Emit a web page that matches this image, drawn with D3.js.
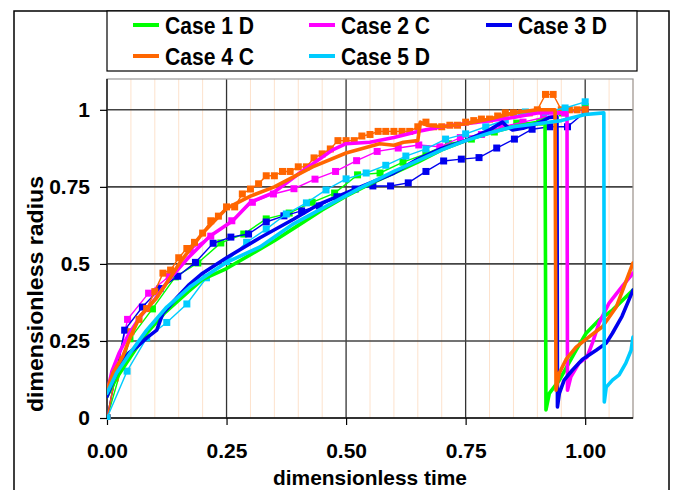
<!DOCTYPE html>
<html><head><meta charset="utf-8">
<script src="https://cdn.jsdelivr.net/npm/d3@7"></script>
<style>body{margin:0;background:#fff}svg{display:block}text{font-family:"Liberation Sans",Arial,sans-serif;font-weight:bold}</style>
</head><body><svg id="c" width="677" height="490"></svg>
<script>
// ---- data ----
const seriesNames = ["Case 1 D","Case 2 C","Case 3 D","Case 4 C","Case 5 D"];
const seriesColors = ["#00ff00","#ff00ff","#0000ee","#ff6600","#00ccff"];
const xTicks = [0,0.25,0.5,0.75,1.0];
const xTickLabels = ["0.00","0.25","0.50","0.75","1.00"];
const yTicks = [0,0.25,0.5,0.75,1];
const yTickLabels = ["0","0.25","0.5","0.75","1"];

// simulated (thick) curves: [time, radius]
const case1Sim = [[0,0.07],[0.02,0.13],[0.05,0.2],[0.08,0.27],[0.12,0.34],[0.17,0.41],[0.2,0.45],[0.25,0.485],[0.3,0.53],[0.35,0.575],[0.4,0.625],[0.45,0.675],[0.5,0.72],[0.55,0.76],[0.6,0.795],[0.65,0.83],[0.7,0.87],[0.75,0.9],[0.8,0.925],[0.85,0.945],[0.9,0.96],[0.916,0.97],[0.918,0.026],[0.925,0.08],[0.946,0.123],[0.981,0.22],[1.002,0.275],[1.029,0.318],[1.057,0.35],[1.1,0.415]];
const case2Sim = [[0,0.08],[0.01,0.15],[0.025,0.21],[0.045,0.27],[0.07,0.33],[0.1,0.385],[0.13,0.45],[0.17,0.52],[0.215,0.59],[0.263,0.64],[0.3,0.7],[0.347,0.73],[0.403,0.795],[0.472,0.87],[0.5,0.89],[0.55,0.895],[0.6,0.91],[0.65,0.93],[0.7,0.945],[0.75,0.955],[0.8,0.965],[0.85,0.975],[0.9,0.99],[0.962,0.99],[0.963,0.09],[0.97,0.134],[0.987,0.178],[1.004,0.198],[1.015,0.243],[1.029,0.308],[1.05,0.373],[1.077,0.426],[1.1,0.47]];
const case3Sim = [[0,0.07],[0.015,0.13],[0.03,0.18],[0.045,0.21],[0.062,0.23],[0.083,0.26],[0.104,0.285],[0.117,0.34],[0.146,0.39],[0.17,0.43],[0.2,0.47],[0.25,0.52],[0.32,0.585],[0.39,0.645],[0.445,0.695],[0.5,0.73],[0.53,0.75],[0.57,0.775],[0.6,0.795],[0.65,0.84],[0.7,0.875],[0.75,0.9],[0.8,0.935],[0.827,0.96],[0.837,0.945],[0.848,0.935],[0.87,0.94],[0.904,0.958],[0.925,0.975],[0.941,0.977],[0.942,0.036],[0.946,0.08],[0.956,0.123],[0.973,0.155],[0.994,0.19],[1.023,0.22],[1.044,0.243],[1.057,0.275],[1.077,0.33],[1.1,0.415]];
const case4Sim = [[0,0.09],[0.0125,0.146],[0.033,0.2],[0.048,0.26],[0.069,0.33],[0.104,0.39],[0.13,0.45],[0.155,0.51],[0.2,0.6],[0.25,0.68],[0.3,0.72],[0.35,0.75],[0.43,0.815],[0.5,0.86],[0.57,0.89],[0.6,0.885],[0.62,0.895],[0.65,0.9],[0.655,0.96],[0.67,0.95],[0.7,0.945],[0.75,0.955],[0.8,0.97],[0.85,0.99],[0.9,1.0],[0.937,1.0],[0.939,0.09],[0.946,0.146],[0.96,0.19],[0.981,0.23],[1.008,0.263],[1.036,0.296],[1.065,0.36],[1.1,0.503]];
const case5Sim = [[0,0.08],[0.02,0.146],[0.048,0.21],[0.083,0.285],[0.125,0.36],[0.173,0.425],[0.215,0.47],[0.25,0.505],[0.32,0.555],[0.39,0.63],[0.45,0.68],[0.528,0.745],[0.6,0.8],[0.65,0.835],[0.7,0.87],[0.75,0.9],[0.8,0.925],[0.85,0.945],[0.9,0.955],[0.95,0.965],[1.0,0.985],[1.039,0.99],[1.04,0.052],[1.044,0.1],[1.057,0.123],[1.071,0.14],[1.085,0.178],[1.096,0.22],[1.1,0.263]];

// measured (marker) series: time values and radius values
const case1MeasT = [0,0.048,0.095,0.143,0.19,0.238,0.286,0.333,0.381,0.429,0.476,0.524,0.571,0.619,0.667,0.714,0.762,0.81,0.857,0.905,0.952,1.0];
const case1MeasR = [0,0.257,0.354,0.458,0.503,0.568,0.597,0.646,0.665,0.70,0.73,0.789,0.795,0.83,0.857,0.89,0.905,0.928,0.957,0.96,0.99,1.01];
const case2MeasT = [0,0.043,0.087,0.13,0.174,0.217,0.261,0.304,0.348,0.391,0.435,0.478,0.522,0.565,0.609,0.652,0.696,0.739,0.783,0.826,0.87,0.913,0.957,1.0];
const case2MeasR = [0,0.32,0.405,0.46,0.545,0.59,0.64,0.70,0.727,0.744,0.775,0.80,0.835,0.865,0.876,0.886,0.88,0.91,0.92,0.945,0.96,0.975,0.99,1.0];
const case3MeasT = [0,0.037,0.074,0.111,0.148,0.185,0.222,0.259,0.296,0.333,0.37,0.407,0.444,0.481,0.519,0.556,0.593,0.63,0.667,0.704,0.741,0.778,0.815,0.852,0.889,0.926,0.963,1.0];
const case3MeasR = [0,0.285,0.36,0.42,0.46,0.505,0.567,0.587,0.597,0.636,0.656,0.672,0.688,0.718,0.743,0.753,0.753,0.763,0.80,0.834,0.84,0.845,0.876,0.905,0.937,0.945,0.945,0.993];
const case4MeasT = [0,0.017,0.033,0.05,0.067,0.083,0.1,0.117,0.133,0.15,0.167,0.183,0.2,0.217,0.233,0.25,0.267,0.283,0.3,0.317,0.333,0.35,0.367,0.383,0.4,0.417,0.433,0.45,0.467,0.483,0.5,0.517,0.533,0.55,0.567,0.583,0.6,0.617,0.633,0.65,0.667,0.683,0.7,0.717,0.733,0.75,0.767,0.783,0.8,0.817,0.833,0.85,0.867,0.883,0.9,0.917,0.933,0.95,0.967,0.983,1.0];
const case4MeasR = [0,0.13,0.19,0.28,0.32,0.355,0.41,0.47,0.48,0.52,0.55,0.57,0.60,0.64,0.655,0.685,0.685,0.727,0.743,0.76,0.786,0.786,0.80,0.80,0.815,0.815,0.844,0.857,0.873,0.90,0.90,0.90,0.915,0.92,0.93,0.93,0.93,0.93,0.93,0.945,0.96,0.945,0.945,0.95,0.95,0.96,0.965,0.97,0.97,0.98,0.99,0.99,0.99,0.99,1.0,1.05,1.05,1.0,1.0,1.0,1.0];
const case5MeasT = [0,0.042,0.083,0.125,0.167,0.208,0.25,0.292,0.333,0.375,0.417,0.458,0.5,0.542,0.583,0.625,0.667,0.708,0.75,0.792,0.833,0.875,0.917,0.958,1.0];
const case5MeasR = [0,0.152,0.26,0.31,0.37,0.455,0.508,0.57,0.613,0.662,0.698,0.74,0.776,0.795,0.82,0.85,0.873,0.905,0.922,0.945,0.967,0.993,0.993,1.006,1.026];

const simData = [case1Sim,case2Sim,case3Sim,case4Sim,case5Sim];
const measT = [case1MeasT,case2MeasT,case3MeasT,case4MeasT,case5MeasT];
const measR = [case1MeasR,case2MeasR,case3MeasR,case4MeasR,case5MeasR];

// ---- drawing ----
const svg = d3.select("#c");
const L=107,R=633,T=79,B=418;
const x = d3.scaleLinear().domain([0,1.1]).range([L,R]);
const y = d3.scaleLinear().domain([0,1.1]).range([B,T]);

// outer frame
svg.append("rect").attr("x",14).attr("y",11).attr("width",655).attr("height",490).attr("fill","none").attr("stroke","#000").attr("stroke-width",1.5);

// minor vertical grid
const minor = d3.range(1,23).map(i=>i*0.05).filter(v=>Math.abs(v/0.25-Math.round(v/0.25))>1e-6);
svg.append("g").selectAll("line").data(minor).join("line")
  .attr("x1",d=>x(d)).attr("x2",d=>x(d)).attr("y1",T).attr("y2",B)
  .attr("stroke","#fde2cc").attr("stroke-width",1);
// major grid
svg.append("g").selectAll("line").data(xTicks.slice(1)).join("line")
  .attr("x1",d=>x(d)).attr("x2",d=>x(d)).attr("y1",T).attr("y2",B)
  .attr("stroke","#333").attr("stroke-width",1.3);
svg.append("g").selectAll("line").data(yTicks.slice(1)).join("line")
  .attr("x1",L).attr("x2",R).attr("y1",d=>y(d)).attr("y2",d=>y(d))
  .attr("stroke","#444").attr("stroke-width",1.6);
// plot border
svg.append("rect").attr("x",L).attr("y",T).attr("width",R-L).attr("height",B-T).attr("fill","none").attr("stroke","#999").attr("stroke-width",1.2);

// axes
const xAxis = svg.append("g").attr("transform",`translate(0,${B})`)
  .call(d3.axisBottom(x).tickValues(xTicks).tickFormat((d,i)=>xTickLabels[i]).tickSize(7).tickPadding(18));
const yAxis = svg.append("g").attr("transform",`translate(${L},0)`)
  .call(d3.axisLeft(y).tickValues(yTicks).tickFormat((d,i)=>yTickLabels[i]).tickSize(7).tickPadding(10));
[xAxis,yAxis].forEach(a=>{
  a.select(".domain").attr("stroke","#000").attr("stroke-width",1.3);
  a.selectAll(".tick line").attr("stroke","#000").attr("stroke-width",1.2);
  a.selectAll("text").attr("font-size",21).attr("font-family","Liberation Sans, Arial, sans-serif").attr("font-weight","bold").attr("fill","#000");
});
yAxis.select(".domain").attr("d",`M0,${T}V${B}`);
xAxis.select(".domain").attr("d",`M${L},0H${R}`);

// clip
svg.append("clipPath").attr("id","clip").append("rect").attr("x",L).attr("y",T-12).attr("width",R-L).attr("height",B-T+14);
const plot = svg.append("g").attr("clip-path","url(#clip)");

const line = d3.line().x(d=>x(d[0])).y(d=>y(d[1]));
// measured series: thin lines + square markers
const msz = 7;
measT.forEach((ts,k)=>{
  const pts = ts.map((t,i)=>[t,measR[k][i]]);
  const g = plot.append("g");
  g.append("path").attr("d",line(pts)).attr("fill","none").attr("stroke",seriesColors[k]).attr("stroke-width",1.4);
  g.selectAll("rect").data(pts).join("rect")
    .attr("x",d=>x(d[0])-msz/2).attr("y",d=>y(d[1])-msz/2).attr("width",msz).attr("height",msz)
    .attr("fill",seriesColors[k]);
});
// simulated thick curves
simData.forEach((pts,k)=>{
  plot.append("path").attr("d",line(pts)).attr("fill","none").attr("stroke",seriesColors[k])
    .attr("stroke-width",3.6).attr("stroke-linejoin","round").attr("stroke-linecap","round");
});

// axis titles
svg.append("text").attr("x",(L+R)/2).attr("y",485).attr("text-anchor","middle").attr("font-size",21)
  .attr("textLength",194).attr("lengthAdjust","spacingAndGlyphs").text("dimensionless time");
svg.append("text").attr("transform",`translate(43,294) rotate(-90)`).attr("text-anchor","middle").attr("font-size",22)
  .attr("textLength",236).attr("lengthAdjust","spacingAndGlyphs").text("dimensionless radius");

// legend
svg.append("rect").attr("x",107).attr("y",11).attr("width",530).attr("height",60).attr("fill","#fff").attr("stroke","#000").attr("stroke-width",1.2);
const legPos = [[133,25],[309,25],[486,25],[133,56],[309,56]];
seriesNames.forEach((n,k)=>{
  const [lx,ly] = legPos[k];
  svg.append("line").attr("x1",lx).attr("x2",lx+26).attr("y1",ly).attr("y2",ly).attr("stroke",seriesColors[k]).attr("stroke-width",4);
  svg.append("text").attr("x",lx+32).attr("y",ly+9).attr("font-size",23)
    .attr("textLength",89).attr("lengthAdjust","spacingAndGlyphs").text(n);
});
</script></body></html>
